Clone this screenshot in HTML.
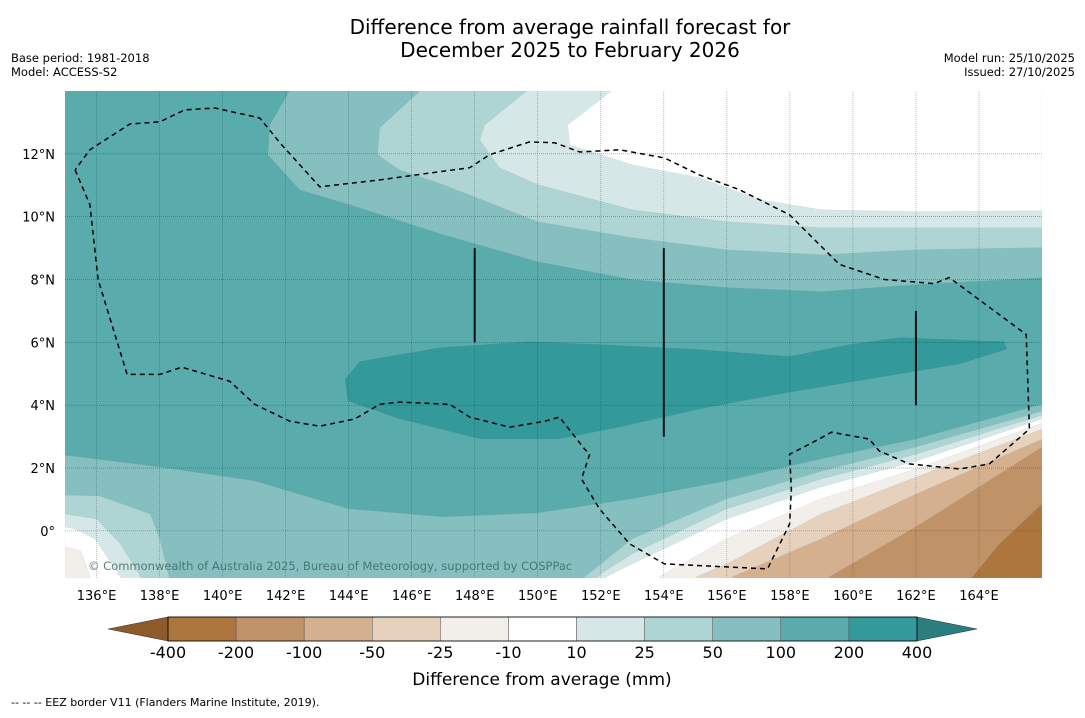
<!DOCTYPE html>
<html><head><meta charset="utf-8"><style>
body{margin:0;background:#fff;font-family:"Liberation Sans","DejaVu Sans",sans-serif}
svg text{font-family:"DejaVu Sans","Liberation Sans",sans-serif}
</style></head><body>
<svg id="s" width="1085" height="713" viewBox="0 0 1085 713">
<text x="570" y="34" font-size="20" text-anchor="middle">Difference from average rainfall forecast for</text>
<text x="570" y="57" font-size="20" text-anchor="middle">December 2025 to February 2026</text>
<text x="11" y="62" font-size="11.5">Base period: 1981-2018</text>
<text x="11" y="76" font-size="11.5">Model: ACCESS-S2</text>
<text x="1075" y="62" font-size="11.5" text-anchor="end">Model run: 25/10/2025</text>
<text x="1075" y="76" font-size="11.5" text-anchor="end">Issued: 27/10/2025</text>
<defs><clipPath id="mc"><rect x="65" y="91" width="977" height="487"/></clipPath></defs>
<g id="map" clip-path="url(#mc)"></g>
<g id="axes"></g>
<g id="cbar"></g>
<text x="542" y="685" font-size="17" text-anchor="middle">Difference from average (mm)</text>
<text x="11" y="706" font-size="11">--  --  -- EEZ border V11 (Flanders Marine Institute, 2019).</text>
</svg>
<script>
const lonMin=135,lonMax=166,latMin=-1.5,latMax=14;
const lonTicks=[136,138,140,142,144,146,148,150,152,154,156,158,160,162,164];
const latTicks=[0,2,4,6,8,10,12];
const levels=[-400,-200,-100,-50,-25,-10,10,25,50,100,200,400];
const levelColors=["#ad763e","#c09268","#d4b08f","#e6d1bd","#f2efea","#ffffff","#d5e8e7","#aed4d4","#85bfbf","#5aabab","#33999a"];
const extColors=["#8f5a2a","#2a7f7e"];
const north100=[[142.13,14],[141.5,12.92],[141.44,11.97],[142.45,10.86],[144.04,10.38],[147,9.43],[150,8.57],[153,8.0],[156,7.75],[159,7.62],[162,7.84],[166,8.06]];
const north50=[[146.26,14],[144.99,12.83],[144.92,11.97],[145.62,11.49],[147,11.02],[150,9.84],[153,9.33],[156,8.95],[159,8.79],[162,8.95],[166,9.02]];
const north25=[[149.65,14],[148.32,12.92],[148.16,12.44],[148.79,11.56],[150,11.02],[153,10.22],[156,9.84],[159,9.65],[162,9.65],[166,9.65]];
const north10=[[152.34,14],[150.95,12.92],[151.01,12.29],[153,11.65],[155.13,11.24],[157.04,10.54],[159,10.22],[162,10.16],[166,10.19]];
const core400=[[143.88,4.83],[144.35,5.40],[146.89,5.84],[149.74,6.03],[151.96,5.94],[155.13,5.78],[157.99,5.56],[159.89,5.94],[161.47,6.16],[164.8,6.03],[164.9,5.78],[163.38,5.30],[160.52,4.83],[157.67,4.35],[155.13,3.87],[152.6,3.30],[150.69,2.92],[148.16,2.92],[145.62,3.56],[143.97,4.13]];
const south100=[[135,2.41],[138,2.03],[141,1.59],[144,0.70],[147,0.44],[150,0.57],[153,1.02],[156,1.59],[159,2.29],[162,2.92],[166,4.03]];
const south50=[[135,1.14],[136.1,1.11],[137.7,0.54],[138,-0.25],[138.3,-1.46],[138.5,-2],[151.2,-2],[151.5,-1.46],[153,-0.25],[156,1.02],[159,1.9],[162,2.67],[166,3.81]];
const south25=[[135,0.54],[136,0.38],[136.75,-0.41],[137.4,-1.46],[137.5,-2],[151.5,-2],[152,-1.37],[153,-0.73],[156,0.70],[159,1.65],[162,2.44],[166,3.68]];
const south10=[[135,0.13],[135.3,0.06],[135.95,-0.25],[136.75,-1.46],[136.8,-2],[152.1,-2],[152.18,-1.46],[153,-1.05],[156,0.38],[159,1.40],[162,2.22],[166,3.56]];
const southM10=[[135,-0.51],[135.5,-0.63],[135.8,-1.46],[135.8,-2],[153.87,-2],[153.87,-1.46],[156,-0.25],[159,1.02],[162,1.97],[166,3.43]];
const southM25=[[155.04,-2],[155.04,-1.46],[156,-1.05],[159,0.54],[162,1.71],[166,3.24]];
const southM50=[[156.18,-2],[156.18,-1.46],[159,-0.25],[162,1.17],[166,2.92]];
const southM100=[[159.25,-2],[159.25,-1.46],[162,0.13],[166,2.67]];
const southM200=[[163.79,-2],[163.79,-1.46],[164.65,-0.41],[166,0.86]];
const eez=[[135.32,11.49],[135.79,10.38],[136.05,8.0],[136.97,4.98],[138.01,4.98],[138.71,5.21],[140.23,4.76],[141.02,4.03],[142.13,3.49],[143.08,3.33],[144.19,3.56],[144.99,4.03],[145.62,4.10],[147.21,4.03],[147.84,3.62],[149.11,3.30],[150.22,3.49],[150.69,3.62],[151.49,2.60],[151.65,2.44],[151.39,1.65],[151.96,0.70],[152.91,-0.41],[154.02,-1.05],[157.29,-1.21],[157.99,0.22],[158.05,1.33],[157.99,2.44],[158.62,2.76],[159.32,3.14],[160.52,2.92],[160.84,2.54],[161.79,2.13],[163.38,1.97],[164.33,2.13],[165.6,3.24],[165.5,6.25],[163.06,8.06],[162.58,7.87],[161.0,8.0],[159.57,8.48],[158.62,9.43],[157.99,10.06],[157.35,10.38],[156.40,10.86],[155.13,11.33],[154.02,11.87],[152.6,12.13],[151.33,12.06],[150.54,12.35],[149.74,12.38],[148.47,11.97],[147.84,11.56],[146.89,11.43],[144.99,11.17],[143.08,10.95],[141.82,12.35],[141.18,13.14],[139.76,13.46],[138.8,13.40],[138.01,13.02],[137.06,12.95],[135.79,12.13],[135.32,11.49]];
const vlines=[[148,6,9],[154,3,9],[162,4,7]];

const X0=65,X1=1042,Y0=91,Y1=578;
const xS=l=>X0+(l-lonMin)/(lonMax-lonMin)*(X1-X0);
const yS=l=>Y1-(l-latMin)/(latMax-latMin)*(Y1-Y0);
const NS="http://www.w3.org/2000/svg";
const mapG=document.getElementById('map'),axesG=document.getElementById('axes'),cbG=document.getElementById('cbar');
function mk(t,a,p){const e=document.createElementNS(NS,t);for(const k in a)e.setAttribute(k,a[k]);p.appendChild(e);return e;}
const pts=a=>a.map(p=>xS(p[0]).toFixed(1)+','+yS(p[1]).toFixed(1)).join(' ');
const bg=mk('rect',{x:X0,y:Y0,width:X1-X0,height:Y1-Y0,fill:levelColors[9]},mapG);


function band(arr,close,color,name){
  const p=mk('polygon',{points:pts(arr.concat(close)),fill:color,stroke:'#9aa',"stroke-width":0.3,"stroke-opacity":0.5},mapG);
  
  
}
band(north100,[[166,15],[north100[0][0],15]],levelColors[8],'band-north-50-100');
band(north50,[[166,15],[north50[0][0],15]],levelColors[7],'band-north-25-50');
band(north25,[[166,15],[north25[0][0],15]],levelColors[6],'band-north-10-25');
band(north10,[[166,15],[north10[0][0],15]],levelColors[5],'band-north-below-10');
band(core400,[],levelColors[10],'band-200-400');
const botClose=[[166,-2],[135,-2]];
band(south100,botClose,levelColors[8],'band-south-50-100');
band(south50,botClose,levelColors[7],'band-south-25-50');
band(south25,botClose,levelColors[6],'band-south-10-25');
band(south10,botClose,levelColors[5],'band-south-neutral');
band(southM10,botClose,levelColors[4],'band-south-minus10-25');
band(southM25,[[166,-2]],levelColors[3],'band-south-minus25-50');
band(southM50,[[166,-2]],levelColors[2],'band-south-minus50-100');
band(southM100,[[166,-2]],levelColors[1],'band-south-minus100-200');
band(southM200,[[166,-2]],levelColors[0],'band-south-minus200-400');
lonTicks.forEach(l=>{const g=mk('line',{x1:xS(l),x2:xS(l),y1:Y0,y2:Y1,stroke:'#333',"stroke-width":0.6,"stroke-opacity":0.5,"stroke-dasharray":"1,1"},mapG);


const t=mk('text',{x:xS(l),y:600,"font-size":13,"text-anchor":"middle"},axesG);t.textContent=l+'°E';

});
latTicks.forEach(l=>{const g=mk('line',{x1:X0,x2:X1,y1:yS(l),y2:yS(l),stroke:'#333',"stroke-width":0.6,"stroke-opacity":0.6,"stroke-dasharray":"1,1"},mapG);


const t=mk('text',{x:55,y:yS(l)+5,"font-size":13,"text-anchor":"end"},axesG);t.textContent=(l===0?'0°':l+'°N');

});
vlines.forEach(v=>{const e=mk('line',{x1:xS(v[0]),x2:xS(v[0]),y1:yS(v[1]),y2:yS(v[2]),stroke:'#111',"stroke-width":2},mapG);

});
const ez=mk('polyline',{points:pts(eez),fill:'none',stroke:'#000',"stroke-width":1.5,"stroke-dasharray":"5,4"},mapG);


const cp=mk('text',{x:88,y:570,"font-size":11.5,fill:'#3f6a6a',"fill-opacity":0.85},mapG);cp.textContent='© Commonwealth of Australia 2025, Bureau of Meteorology, supported by COSPPac';


const cx0=168,cx1=917,cy0=617,cy1=641,bw=(cx1-cx0)/levelColors.length;
levelColors.forEach((c,i)=>{const r=mk('rect',{x:cx0+i*bw,y:cy0,width:bw,height:cy1-cy0,fill:c,stroke:'#555',"stroke-width":0.5},cbG);

});
const tl=mk('polygon',{points:`${cx0},${cy0} 108,${(cy0+cy1)/2} ${cx0},${cy1}`,fill:extColors[0],stroke:'#333',"stroke-width":0.5},cbG);


const tr=mk('polygon',{points:`${cx1},${cy0} 977,${(cy0+cy1)/2} ${cx1},${cy1}`,fill:extColors[1],stroke:'#333',"stroke-width":0.5},cbG);


mk('rect',{x:cx0,y:cy0,width:cx1-cx0,height:cy1-cy0,fill:'none',stroke:'#000',"stroke-width":0.8},cbG);
levels.forEach((v,i)=>{const t=mk('text',{x:cx0+i*bw,y:658,"font-size":16,"text-anchor":"middle"},cbG);t.textContent=v;

});
</script>
</body></html>
